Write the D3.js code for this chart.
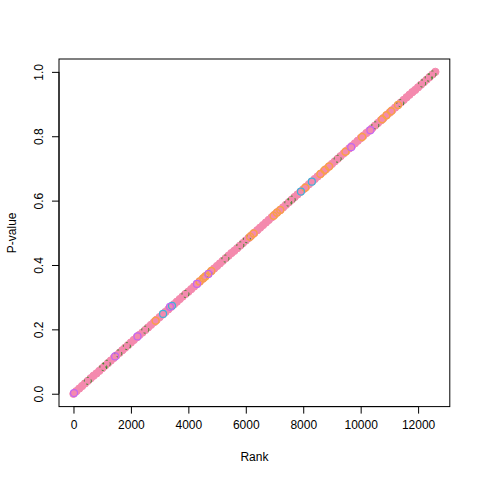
<!DOCTYPE html>
<html>
<head>
<meta charset="utf-8">
<script src="https://cdn.jsdelivr.net/npm/d3@7"></script>
<style>
  body { margin: 0; background: #fff; }
  text { font-family: "Liberation Sans", Arial, sans-serif; font-size: 12px; fill: #000; }
</style>
</head>
<body>
<svg width="480" height="480"></svg>
<script>
// sorted p-values of the bulk (pink) group, read every 100 ranks
var pinkP = [0.000, 0.008, 0.016, 0.024, 0.032, 0.040, 0.048, 0.056, 0.063, 0.071,
    0.079, 0.087, 0.095, 0.103, 0.111, 0.119, 0.127, 0.135, 0.143, 0.151,
    0.159, 0.167, 0.175, 0.183, 0.190, 0.198, 0.206, 0.214, 0.222, 0.230,
    0.238, 0.246, 0.254, 0.262, 0.270, 0.278, 0.286, 0.294, 0.302, 0.310,
    0.317, 0.325, 0.333, 0.341, 0.349, 0.357, 0.365, 0.373, 0.381, 0.389,
    0.397, 0.405, 0.413, 0.421, 0.429, 0.437, 0.444, 0.452, 0.460, 0.468,
    0.476, 0.484, 0.492, 0.500, 0.508, 0.516, 0.524, 0.532, 0.540, 0.548,
    0.556, 0.564, 0.571, 0.579, 0.587, 0.595, 0.603, 0.611, 0.619, 0.627,
    0.635, 0.643, 0.651, 0.659, 0.667, 0.675, 0.683, 0.690, 0.698, 0.706,
    0.714, 0.722, 0.730, 0.738, 0.746, 0.754, 0.762, 0.770, 0.778, 0.786,
    0.794, 0.802, 0.810, 0.817, 0.825, 0.833, 0.841, 0.849, 0.857, 0.865,
    0.873, 0.881, 0.889, 0.897, 0.905, 0.913, 0.921, 0.929, 0.937, 0.944,
    0.952, 0.960, 0.968, 0.976, 0.984, 0.992, 1.000];

var greenRank = [500, 1040, 1160, 1560, 1860, 2500, 3900, 4700, 5290, 5810, 6040, 7480, 7600, 9200, 10510, 11380, 12140, 12370, 12500];
var greenP    = [0.040, 0.083, 0.093, 0.125, 0.148, 0.199, 0.310, 0.373, 0.420, 0.461, 0.480, 0.594, 0.603, 0.730, 0.834, 0.903, 0.964, 0.982, 0.992];

var orangeRank = [2860, 4390, 4520, 4590, 4800, 6150, 6270, 6970, 7080, 7200, 8070, 8600, 8750, 8900, 9470, 10050, 10750, 10900, 11060, 11300];
var orangeP    = [0.227, 0.349, 0.359, 0.364, 0.381, 0.488, 0.498, 0.553, 0.562, 0.571, 0.640, 0.683, 0.695, 0.706, 0.752, 0.798, 0.853, 0.865, 0.878, 0.897];

var cyanRank = [3120, 3430, 7920, 8300];
var cyanP    = [0.248, 0.273, 0.628, 0.659];

var purpleRank = [20, 1450, 2230, 3360, 4300, 4700, 9670, 10340];
var purpleP    = [0.002, 0.116, 0.178, 0.270, 0.341, 0.372, 0.766, 0.819];

var xTicks = [0, 2000, 4000, 6000, 8000, 10000, 12000];
var yTicks = [0.0, 0.2, 0.4, 0.6, 0.8, 1.0];

var svg = d3.select("svg");
var mLeft = 59, mRight = 449.8, mTop = 59, mBottom = 406.6;

var nRank = 12600;
var x = d3.scaleLinear()
    .domain([-0.04 * nRank, nRank * 1.04])
    .range([mLeft, mRight]);
var y = d3.scaleLinear()
    .domain([-0.04, 1.04])
    .range([mBottom, mTop]);

// bulk group
var pink = pinkP.map(function(p, i) { return {r: i * 100, p: p}; });
svg.append("g").selectAll("circle")
    .data(pink)
    .enter().append("circle")
    .attr("cx", d => x(d.r))
    .attr("cy", d => y(d.p))
    .attr("r", 3.7)
    .attr("fill", "#f48aae")
    .attr("stroke", "#f48aae")
    .attr("stroke-width", 1);

function ring(ranks, ps, col, dash, sw) {
    svg.append("g").selectAll("circle")
        .data(ranks.map((r, i) => ({r: r, p: ps[i]})))
        .enter().append("circle")
        .attr("cx", d => x(d.r))
        .attr("cy", d => y(d.p))
        .attr("r", 3.5)
        .attr("fill", "none")
        .attr("stroke", col)
        .attr("stroke-width", sw)
        .attr("stroke-dasharray", dash);
}
// green points are mostly buried under the pink ones, only bits show
ring(greenRank, greenP, "#2a8a1e", "2,3", 1);
ring(orangeRank, orangeP, "#f8a04a", null, 1.5);
ring(cyanRank, cyanP, "#3fb2d8", null, 1.2);
ring(purpleRank, purpleP, "#c466f2", null, 1.2);

// box
svg.append("rect")
    .attr("x", mLeft).attr("y", mTop)
    .attr("width", mRight - mLeft).attr("height", mBottom - mTop)
    .attr("fill", "none").attr("stroke", "#000").attr("stroke-width", 1);

// axes
var xAxis = d3.axisBottom(x).tickValues(xTicks).tickSize(7).tickPadding(7)
    .tickFormat(d3.format("d"));
var gx = svg.append("g").attr("transform", "translate(0," + mBottom + ")").call(xAxis);
gx.select(".domain").attr("d", "M" + x(0) + ",0H" + x(12000));
gx.selectAll("text").style("font-size", "12px").style("font-family", "Liberation Sans, Arial, sans-serif");

var yAxis = d3.axisLeft(y).tickValues(yTicks).tickSize(7).tickPadding(0)
    .tickFormat(d3.format(".1f"));
var gy = svg.append("g").attr("transform", "translate(" + mLeft + ",0)").call(yAxis);
gy.select(".domain").attr("d", "M0," + y(0) + "V" + y(1));
gy.selectAll(".tick text")
    .attr("x", null)
    .attr("text-anchor", "middle")
    .attr("transform", "translate(-20,0) rotate(-90)")
    .attr("dy", "0.35em")
    .style("font-size", "12px").style("font-family", "Liberation Sans, Arial, sans-serif");

svg.append("text")
    .attr("x", (mLeft + mRight) / 2).attr("y", 461)
    .attr("text-anchor", "middle")
    .text("Rank");

svg.append("text")
    .attr("transform", "translate(16," + (mTop + mBottom) / 2 + ") rotate(-90)")
    .attr("text-anchor", "middle")
    .text("P-value");
</script>
</body>
</html>
